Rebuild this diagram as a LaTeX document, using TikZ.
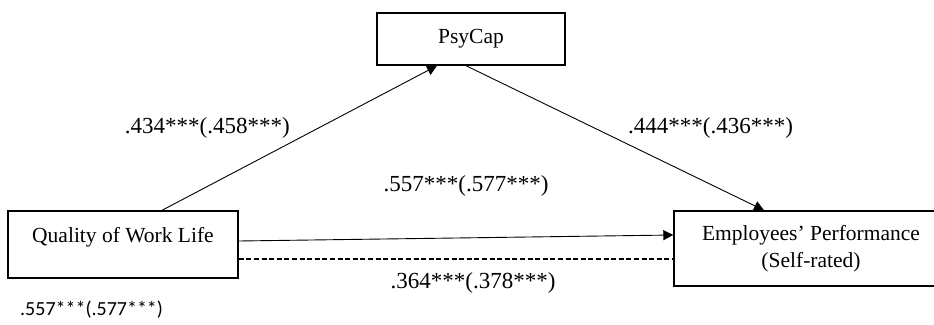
\documentclass[tikz,border=0pt]{standalone}
\usepackage{fontspec}
\setmainfont{Liberation Serif}
\newfontfamily\calfont{Carlito}
\usetikzlibrary{arrows.meta}
\tikzset{
  boxnode/.style={draw, line width=1.4pt, rectangle, inner sep=0pt, align=center,
    font=\fontsize{21.5}{27}\selectfont},
  conn/.style={line width=0.9pt, -{Triangle[length=10pt,width=10pt]}},
  dashconn/.style={line width=1.3pt, dash pattern=on 5pt off 2.6pt},
  coef/.style={inner sep=0pt, font=\fontsize{23}{27}\selectfont},
  coefsans/.style={inner sep=0pt, font=\calfont\fontsize{20}{24}\selectfont}
}
\begin{document}
\begin{tikzpicture}[x=1pt,y=-1pt]
\useasboundingbox (0,0) rectangle (934,324);
\node[boxnode, minimum width=188pt, minimum height=52pt] (psycap) at (471,39) {PsyCap};
\node[boxnode, minimum width=230pt, minimum height=67pt, text height=15pt, text depth=19pt] (qwl) at (123,244.5) {Quality of Work Life};
\node[boxnode, minimum width=274pt, minimum height=75pt] (ep) at (811,248.5) {Employees' Performance\\(Self-rated)};
\draw[conn] ([xshift=39pt]qwl.north) -- ([xshift=-34pt]psycap.south);
\draw[conn] ([xshift=-5pt]psycap.south) -- ([xshift=-47pt]ep.north);
\draw[conn] ([yshift=3.5pt]qwl.east) -- ([yshift=13.5pt]ep.west);
\draw[dashconn] ([yshift=-14.5pt]qwl.east) -- ([yshift=-10.5pt]ep.west);
\node[coef, anchor=east] (l1) at (290,128) {.434***(.458***)};
\node[coef, anchor=west] (l2) at (628,128) {.444***(.436***)};
\node[coef] (l3) at (466,186) {.557***(.577***)};
\node[coef] (l4) at (473,283) {.364***(.378***)};
\node[coefsans, anchor=west] (l5) at (20,310) {.557***(.577***)};
\end{tikzpicture}
\end{document}
